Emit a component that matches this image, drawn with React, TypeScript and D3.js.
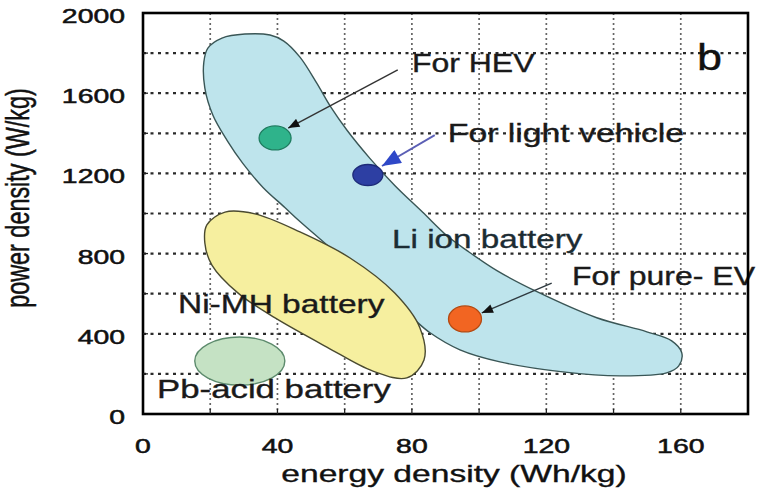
import React from "react";
import * as d3 from "d3";

// ---- data (energy density Wh/kg, power density W/kg) ----
const xTicks = [0, 40, 80, 120, 160];
const yTicks = [0, 400, 800, 1200, 1600, 2000];
const xGrid = [20, 40, 60, 80, 100, 120, 140, 160];
const yGrid = [200, 400, 600, 800, 1000, 1200, 1400, 1600, 1800];

const liIonOutline: [number, number][] = [
  [19.3, 1825], [23.5, 1875], [30.3, 1895], [37.8, 1890], [41.9, 1860],
  [46.7, 1780], [51.7, 1650], [55.9, 1530], [60.7, 1415], [67.5, 1275],
  [74.9, 1140], [83.3, 1005], [90.4, 890], [96.4, 815], [105.3, 715],
  [117.2, 610], [135.0, 480], [149.9, 410], [157.3, 365], [160.3, 305],
  [159.4, 240], [155.8, 205], [141.9, 190], [124.9, 210], [106.2, 260],
  [94.3, 320], [85.4, 405], [79.4, 490], [67.5, 650], [55.6, 830],
  [46.7, 960], [42.2, 1030], [35.7, 1130], [29.7, 1250], [25.0, 1365],
  [20.8, 1490], [18.4, 1625], [18.1, 1755],
];

const niMHOutline: [number, number][] = [
  [19.0, 943], [24.4, 1007], [33.3, 998], [46.7, 908], [61.6, 778],
  [74.9, 603], [82.4, 429], [83.6, 269], [78.5, 180], [68.4, 214],
  [54.7, 334], [39.3, 479], [28.3, 603], [20.5, 743], [18.4, 853],
];

// Pb-acid region: centre and semi-axes in data units
const pbCenter: [number, number] = [28.8, 264];
const pbRadii: [number, number] = [13.4, 120];

const points = [
  { name: "HEV", e: 39.3, p: 1377, fill: "#2fb38b", stroke: "#1f7d60", rx: 16, ry: 12 },
  { name: "light", e: 66.9, p: 1192, fill: "#2d3fa3", stroke: "#1d2a78", rx: 15, ry: 10.5 },
  { name: "EV", e: 95.8, p: 474, fill: "#f26522", stroke: "#b44a12", rx: 16.5, ry: 13 },
];

const arrows = [
  { from: [75.8, 1716], to: [43.2, 1426], color: "#333", width: 1.4, head: "headBlack" },
  { from: [86.8, 1391], to: [71.1, 1237], color: "#5b5fb5", width: 1.9, head: "headBlue" },
  { from: [121.6, 653], to: [100.8, 504], color: "#2f3a40", width: 1.4, head: "headBlack" },
];

const labels = [
  { text: "For HEV", e: 80.0, p: 1706, size: 25, sx: 1.28, color: "#1a1a1a" },
  { text: "For light vehicle", e: 90.7, p: 1357, size: 25, sx: 1.35, color: "#1a1a1a" },
  { text: "Li ion battery", e: 74.1, p: 828, size: 25, sx: 1.33, color: "#1c2c33" },
  { text: "For pure- EV", e: 127.6, p: 643, size: 25, sx: 1.28, color: "#1a1a1a" },
  { text: "Ni-MH battery", e: 10.4, p: 504, size: 25, sx: 1.34, color: "#1a1a1a" },
  { text: "Pb-acid battery", e: 4.2, p: 80, size: 25, sx: 1.39, color: "#1a1a1a" },
  { text: "b", e: 164.8, p: 1716, size: 36, sx: 1.25, color: "#111" },
];

const W = 762;
const H = 499;
const M = { left: 143, right: 748, top: 13, bottom: 414 };
const FONT = "'Liberation Sans', Arial, Helvetica, sans-serif";

export default function App() {
  const x = d3.scaleLinear().domain([0, 180]).range([M.left, M.right]);
  const y = d3.scaleLinear().domain([0, 2000]).range([M.bottom, M.top]);

  const area = d3
    .line<[number, number]>()
    .x((d) => x(d[0]))
    .y((d) => y(d[1]))
    .curve(d3.curveCatmullRomClosed.alpha(0.5));

  return (
    <svg
      width={W}
      height={H}
      viewBox={`0 0 ${W} ${H}`}
      style={{ position: "absolute", left: 0, top: 0, background: "#fff" }}
    >
      <defs>
        <marker id="headBlack" viewBox="0 0 10 8" refX={10} refY={4}
          markerWidth={12} markerHeight={9} orient="auto" markerUnits="userSpaceOnUse">
          <path d="M0,0 L10,4 L0,8 Z" fill="#111" />
        </marker>
        <marker id="headBlue" viewBox="0 0 10 8" refX={10} refY={4}
          markerWidth={20} markerHeight={15} orient="auto" markerUnits="userSpaceOnUse">
          <path d="M0,0 L10,4 L0,8 Z" fill="#2f48c8" />
        </marker>
      </defs>
      <rect x={0} y={0} width={W} height={H} fill="#fff" />

      {/* grid */}
      {yGrid.map((v) => (
        <line key={"hy" + v} x1={M.left} x2={M.right} y1={y(v)} y2={y(v)}
          stroke="#2a2a2a" strokeWidth={2.2} strokeDasharray="3 4.5" />
      ))}
      {xGrid.map((v) => (
        <line key={"vx" + v} x1={x(v)} x2={x(v)} y1={M.top} y2={M.bottom}
          stroke="#666" strokeWidth={1.7} strokeDasharray="2 3" />
      ))}

      {/* regions */}
      <path d={area(liIonOutline) || ""} fill="#bee4ec" stroke="#3a5656" strokeWidth={1.4} />
      <path d={area(niMHOutline) || ""} fill="#f6ef9f" stroke="#4a4a30" strokeWidth={1.4} />
      <ellipse
        cx={x(pbCenter[0])}
        cy={y(pbCenter[1])}
        rx={x(pbCenter[0] + pbRadii[0]) - x(pbCenter[0])}
        ry={y(pbCenter[1]) - y(pbCenter[1] + pbRadii[1])}
        fill="#c5e2c4"
        stroke="#5c8a6c"
        strokeWidth={1.4}
      />

      {/* points */}
      {points.map((d) => (
        <ellipse key={d.name} cx={x(d.e)} cy={y(d.p)} rx={d.rx} ry={d.ry}
          fill={d.fill} stroke={d.stroke} strokeWidth={1.3} />
      ))}

      {/* arrows */}
      {arrows.map((a, i) => (
        <line key={"a" + i} x1={x(a.from[0])} y1={y(a.from[1])} x2={x(a.to[0])} y2={y(a.to[1])}
          stroke={a.color} strokeWidth={a.width} markerEnd={`url(#${a.head})`} />
      ))}

      {/* labels */}
      {labels.map((l) => (
        <text key={l.text}
          transform={`translate(${x(l.e)},${y(l.p)}) scale(${l.sx},1)`}
          fontFamily={FONT} fontSize={l.size} fill={l.color}
          stroke={l.color} strokeWidth={0.35}>
          {l.text}
        </text>
      ))}

      {/* frame */}
      <rect x={M.left} y={M.top} width={M.right - M.left} height={M.bottom - M.top}
        fill="none" stroke="#000" strokeWidth={2.6} />

      {/* ticks */}
      {xGrid.map((v) => (
        <line key={"tx" + v} x1={x(v)} x2={x(v)} y1={M.bottom} y2={M.bottom - 5} stroke="#222" strokeWidth={1.3} />
      ))}
      {yGrid.map((v) => (
        <line key={"ty" + v} x1={M.left} x2={M.left + 5} y1={y(v)} y2={y(v)} stroke="#222" strokeWidth={1.3} />
      ))}

      {xTicks.map((v) => (
        <text key={"xl" + v} transform={`translate(${x(v)},453) scale(1.42,1)`}
          textAnchor="middle" fontFamily={FONT} fontSize={20} fill="#111"
          stroke="#111" strokeWidth={0.5}>
          {v}
        </text>
      ))}
      {yTicks.map((v) => (
        <text key={"yl" + v} transform={`translate(125,${y(v) + 10}) scale(1.42,1)`}
          textAnchor="end" fontFamily={FONT} fontSize={20} fill="#111"
          stroke="#111" strokeWidth={0.5}>
          {v}
        </text>
      ))}

      {/* axis titles */}
      <text transform={`translate(454,482) scale(1.4,1)`} textAnchor="middle"
        fontFamily={FONT} fontSize={24} fill="#111" stroke="#111" strokeWidth={0.35}>
        energy density (Wh/kg)
      </text>
      <text transform={`translate(29,198) rotate(-90) scale(1,1.4)`} textAnchor="middle"
        fontFamily={FONT} fontSize={23.4} fill="#111" stroke="#111" strokeWidth={0.35}>
        power density (W/kg)
      </text>
    </svg>
  );
}
